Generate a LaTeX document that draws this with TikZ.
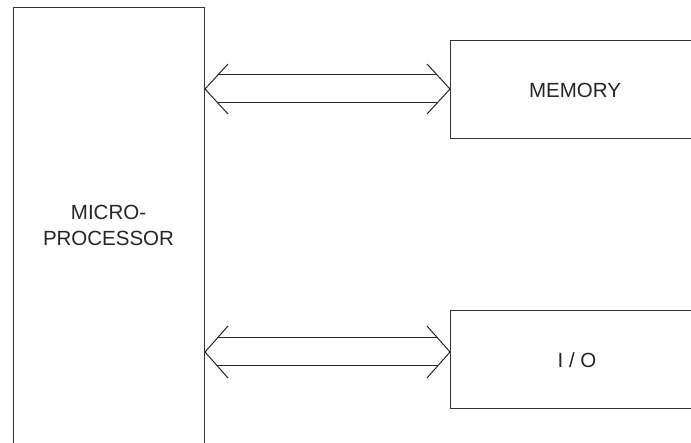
\documentclass[tikz,border=0pt]{standalone}
\usepackage{fontspec}
\setmainfont{Liberation Sans}
\definecolor{linegray}{gray}{0.2}
\begin{document}
\begin{tikzpicture}[x=1pt,y=1pt,
  box/.style={draw=linegray, line width=1pt, inner sep=0pt, anchor=north west},
  lbl/.style={font=\fontsize{20.5}{26}\selectfont, text=black!85, align=center, inner sep=0pt},
  bus/.style={draw=black!85, line width=1pt, line cap=butt}]
\useasboundingbox (0,0) rectangle (691,442);
\clip (0,0) rectangle (691,442);
% boxes (open sides run past the picture edge)
\node[box, minimum width=191pt, minimum height=460pt] (mp) at (13,435) {};
\node[box, minimum width=290pt, minimum height=98pt] (mem) at (450,402) {};
\node[box, minimum width=290pt, minimum height=98pt] (io) at (450,132) {};
% labels
\node[lbl] (mptext) at (108.5,217) {MICRO-\\PROCESSOR};
\node[lbl] (memtext) at (575,352) {MEMORY};
\node[lbl] (iotext) at (577,82) {I / O};
% bus arrow to memory
\coordinate (a1l) at (mp.east |- 0,353);
\coordinate (a1r) at (mem.west |- 0,353);
\draw[bus] ([shift={(23,25)}]a1l) -- (a1l) -- ([shift={(23,-25)}]a1l);
\draw[bus] ([shift={(-23,25)}]a1r) -- (a1r) -- ([shift={(-23,-25)}]a1r);
\draw[bus] ([shift={(12.9,14)}]a1l) -- ([shift={(-12.9,14)}]a1r);
\draw[bus] ([shift={(12.9,-14)}]a1l) -- ([shift={(-12.9,-14)}]a1r);
% bus arrow to I/O
\coordinate (a2l) at (mp.east |- 0,90);
\coordinate (a2r) at (io.west |- 0,90);
\draw[bus] ([shift={(23,26)}]a2l) -- (a2l) -- ([shift={(23,-26)}]a2l);
\draw[bus] ([shift={(-23,26)}]a2r) -- (a2r) -- ([shift={(-23,-26)}]a2r);
\draw[bus] ([shift={(12.4,14)}]a2l) -- ([shift={(-12.4,14)}]a2r);
\draw[bus] ([shift={(12.4,-14)}]a2l) -- ([shift={(-12.4,-14)}]a2r);
\end{tikzpicture}
\end{document}
